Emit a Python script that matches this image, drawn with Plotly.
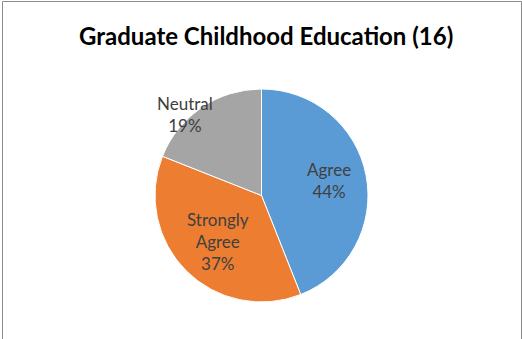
import plotly.graph_objects as go

categories = ["Agree", "Strongly Agree", "Neutral"]
values = [44, 37, 19]
colors = ["#5B9BD5", "#ED7D31", "#A5A5A5"]
title = "Graduate Childhood Education (16)"

W, H = 522, 339

fig = go.Figure(go.Pie(
    labels=categories,
    values=values,
    sort=False,
    direction="clockwise",
    rotation=0,
    marker=dict(colors=colors, line=dict(color="white", width=1)),
    textinfo="none",
    hoverinfo="label+percent",
    showlegend=False,
    domain=dict(x=[155 / W, 368 / W], y=[1 - 302 / H, 1 - 89 / H]),
))

# label positions (pixel) for each category
label_pos = {"Agree": (329, 180), "Strongly Agree": (218, 241), "Neutral": (185, 114)}
label_text = {"Agree": "Agree", "Strongly Agree": "Strongly<br>Agree", "Neutral": "Neutral"}
for c, v in zip(categories, values):
    px, py = label_pos[c]
    fig.add_annotation(
        x=px / W, y=1 - py / H, xref="paper", yref="paper",
        text=f"{label_text[c]}<br>{v}%", showarrow=False,
        font=dict(family="Lato, Open Sans, sans-serif", size=17, color="#404040"),
        align="center", xanchor="center", yanchor="middle",
    )

fig.add_annotation(
    x=266 / W, y=1 - 36 / H, xref="paper", yref="paper",
    text=f"<b>{title}</b>", showarrow=False,
    font=dict(family="Lato, Open Sans, sans-serif", size=24, color="#000000"),
    xanchor="center", yanchor="middle",
)

line_col = "#8c8c8c"
fig.add_shape(type="line", xref="paper", yref="paper", x0=2.5 / W, x1=521.5 / W, y0=1 - 1.5 / H, y1=1 - 1.5 / H, line=dict(color=line_col, width=1))
fig.add_shape(type="line", xref="paper", yref="paper", x0=2.5 / W, x1=2.5 / W, y0=0, y1=1 - 1.5 / H, line=dict(color=line_col, width=1))
fig.add_shape(type="line", xref="paper", yref="paper", x0=521.5 / W, x1=521.5 / W, y0=0, y1=1 - 1.5 / H, line=dict(color=line_col, width=1))

fig.update_layout(
    width=W, height=H,
    margin=dict(l=0, r=0, t=0, b=0),
    paper_bgcolor="white", plot_bgcolor="white",
)

fig.write_html("out.html", config={"displayModeBar": False},
               post_script="document.body.style.margin='0';document.body.style.overflow='hidden';")
